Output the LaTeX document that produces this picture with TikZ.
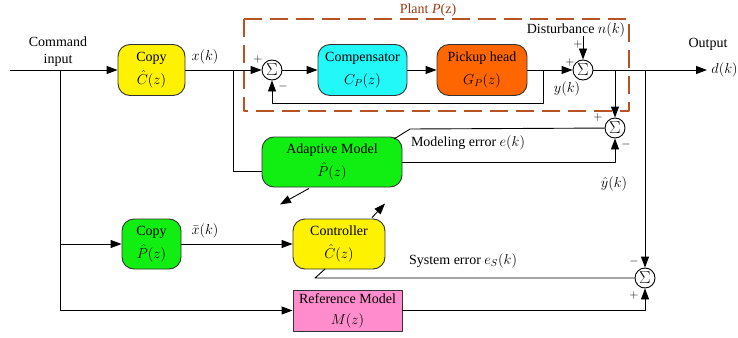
\documentclass[tikz,border=0pt]{standalone}
\usepackage{fontspec}
\setmainfont{Liberation Serif}
\usetikzlibrary{arrows.meta,calc}
\definecolor{plantframe}{HTML}{B85424}
\definecolor{plantlabel}{HTML}{9A3B12}
\definecolor{compcyan}{HTML}{22F8F8}
\definecolor{pickorange}{HTML}{FF6600}
\definecolor{modgreen}{HTML}{11EE11}
\definecolor{refpink}{HTML}{FF8CCC}
\definecolor{boxline}{HTML}{333333}
\begin{document}
\begin{tikzpicture}[x=1pt,y=-1pt,>={Triangle[length=11pt,width=8pt]}, line width=0.9pt, line join=round,
	font=\fontsize{14}{23}\selectfont,
	blk/.style={draw=boxline,rounded corners=12pt,align=center,inner sep=0pt},
	sum/.style={draw,circle,fill=white,minimum size=20pt,inner sep=0pt,font=\fontsize{16}{16}\selectfont},
	lbl/.style={inner sep=0pt},
	sgn/.style={inner sep=0pt,font=\fontsize{12}{12}\selectfont}]
	\useasboundingbox (0,0) rectangle (738,337);
	% plant frame
	\draw[plantframe,line width=1.1pt,dash pattern=on 18pt off 8pt] (244,19) rectangle (629,111);
	\node[lbl,text=plantlabel] (plant) at (428,10) {Plant \textit{P}(z)};
	% blocks
	\node[blk,fill=yellow,minimum width=67pt,minimum height=51pt] (copyC) at (151.5,70) {Copy\\$\hat{C}(z)$};
	\node[blk,fill=compcyan,minimum width=89pt,minimum height=51pt] (comp) at (362.5,70) {Compensator\\$C_P(z)$};
	\node[blk,fill=pickorange,minimum width=90pt,minimum height=51pt] (pickup) at (482,70) {Pickup head\\$G_P(z)$};
	\node[blk,fill=modgreen,minimum width=140pt,minimum height=50pt] (adapt) at (332,162) {Adaptive Model\\$\hat{P}(z)$};
	\node[blk,fill=modgreen,minimum width=59pt,minimum height=50pt] (copyP) at (151.5,244) {Copy\\$\hat{P}(z)$};
	\node[blk,fill=yellow,minimum width=92pt,minimum height=50pt] (ctrl) at (339,244) {Controller\\$\hat{C}(z)$};
	\node[blk,rounded corners=0pt,fill=refpink,minimum width=109pt,minimum height=41pt,
		font=\fontsize{14}{21}\selectfont] (ref) at (347.5,310.5) {Reference Model\\$M(z)$};
	% summing points
	\node[sum] (s1) at (272,70) {$\Sigma$};
	\node[sum] (s2) at (583,70) {$\Sigma$};
	\node[sum] (s3) at (615,128) {$\Sigma$};
	\node[sum] (s4) at (645,278) {$\Sigma$};
	% points on the lines
	\coordinate (in) at (10,70);
	\coordinate (j0) at (60,70);
	\coordinate (j1) at (233,70);
	\coordinate (j2) at (543,70);
	\coordinate (fb) at (543,103);
	\coordinate (dist) at (583,36);
	\coordinate (out) at (707,70);
	\coordinate (b1) at (615,70);
	\coordinate (b2) at (645,70);
	\coordinate (me) at (410,129);
	\coordinate (meEnd) at (394,139);
	\coordinate (se) at (315,278);
	\coordinate (seEnd) at (325,269);
	% signals
	\draw[->] (in) -- (copyC.west);
	\draw[->] (j0) |- (ref.west);
	\draw[->] (j0 |- copyP.west) -- (copyP.west);
	\draw[->] (copyC) -- (s1);
	\draw (j1) |- ($(adapt.west)+(0,9)$);
	\draw[->] (s1) -- (comp);
	\draw[->] (comp) -- (pickup);
	\draw[->] (pickup) -- (s2);
	\draw[->] (j2) -- (fb) -| (s1.south);
	\draw[->] (dist) -- (s2);
	\draw[->] (s2) -- (out);
	\draw[->] (b1) -- (s3);
	\draw[->] (b2) -- (s4);
	\draw (s3) -- (me) -- (meEnd);
	\draw[->] (adapt.east) -| (s3.south);
	\draw[->] ($(adapt.south)+(-23,1)$) -- ++(-29,16);
	\draw[->] ($(ctrl.north)+(33,-1)$) -- ++(13,-14);
	\draw[->] (copyP) -- (ctrl);
	\draw (s4) -- (se) -- (seEnd);
	\draw[->] (ref.east) -| (s4.south);
	% labels
	\node[lbl,align=center,font=\fontsize{14}{17}\selectfont] (cmd) at (58,52) {Command\\input};
	\node[lbl] (xk) at (205,57) {$x(k)$};
	\node[lbl] (xbar) at (205,231) {$\bar{x}(k)$};
	\node[lbl] (yk) at (567,89) {$y(k)$};
	\node[lbl] (yhat) at (614,184) {$\hat{y}(k)$};
	\node[lbl] (disttext) at (576,29.5) {Disturbance $n(k)$};
	\node[lbl] (outtext) at (708,44) {Output};
	\node[lbl,anchor=west] (dk) at (711,70) {$d(k)$};
	\node[lbl] (modtext) at (468,143) {Modeling error $e(k)$};
	\node[lbl] (systext) at (463,261) {System error $e_S(k)$};
	% signs
	\node[sgn] at (258,60) {$+$};
	\node[sgn] at (283,86) {$-$};
	\node[sgn] at (578,45) {$+$};
	\node[sgn] at (570,62) {$+$};
	\node[sgn] at (598,117) {$+$};
	\node[sgn] at (626,144) {$-$};
	\node[sgn] at (634,261) {$-$};
	\node[sgn] at (634,295) {$+$};
\end{tikzpicture}
\end{document}
